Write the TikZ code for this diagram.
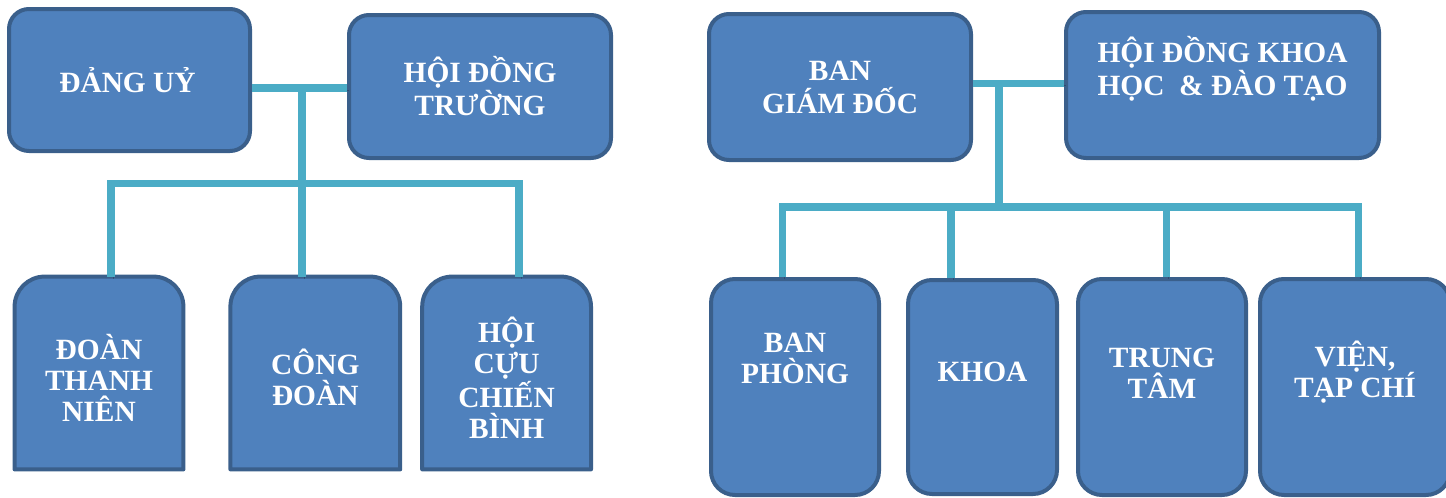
\documentclass[tikz,border=0pt]{standalone}
\usepackage{fontspec}
\setmainfont{Liberation Serif}
\usepackage{tikz}
\usetikzlibrary{positioning}
\definecolor{boxfill}{HTML}{4F81BD}
\definecolor{boxline}{HTML}{3A5F8B}
\definecolor{wirecol}{HTML}{4BACC6}
\tikzstyle{box} = [rectangle, draw=boxline, fill=boxfill, line width=2pt, rounded corners=10pt, inner sep=0pt]
\tikzstyle{tallbox} = [box, rounded corners=12pt]
\tikzstyle{tabbox} = [rectangle, inner sep=0pt]
\tikzstyle{tabshape} = [draw=boxline, fill=boxfill, line width=2pt, line join=round]
\tikzstyle{lbl} = [text=white, align=center, inner sep=0pt, font=\bfseries\fontsize{14.7}{15.5}\selectfont]
\tikzstyle{widelbl} = [lbl, font=\bfseries\fontsize{14.7}{16.5}\selectfont]
\tikzstyle{wire} = [draw=wirecol, line width=3.8pt,
  preaction={draw=black, opacity=0.2, transform canvas={xshift=1pt, yshift=-1pt}}]

\begin{document}
\begin{tikzpicture}[x=0.5pt, y=-0.5pt]
  \useasboundingbox (0,0) rectangle (1446,498);

  % left group
  \node[box, minimum width=120.5pt, minimum height=71pt] (dang) at (129.5,80) {};
  \node[box, minimum width=131pt, minimum height=71.5pt] (hdt) at (480,86.5) {};
  \node[tabbox, minimum width=84pt, minimum height=96pt] (dtn) at (99,373) {};
  \node[tabbox, minimum width=84.5pt, minimum height=96pt, right=23.5pt of dtn] (cd) {};
  \node[tabbox, minimum width=84pt, minimum height=96pt, right=11pt of cd] (hcb) {};
  \foreach \n in {dtn,cd,hcb}
    \draw[tabshape] (\n.south west) -- ([yshift=-15pt]\n.north west)
      arc[start angle=180, end angle=90, radius=15pt]
      -- ([xshift=-15pt]\n.north east)
      arc[start angle=90, end angle=0, radius=15pt]
      -- (\n.south east) -- cycle;

  % right group
  \node[box, minimum width=131pt, minimum height=73pt] (bgd) at (840,87) {};
  \node[box, minimum width=156.5pt, minimum height=73pt] (hdkh) at (1222.5,85) {};
  \node[tallbox, minimum width=84pt, minimum height=108pt] (bp) at (795,387) {};
  \node[tallbox, minimum width=74.5pt, minimum height=107pt, right=12.5pt of bp] (khoa) {};
  \node[tallbox, minimum width=84pt, minimum height=108pt, right=8.5pt of khoa] (tt) {};
  \node[tallbox, minimum width=95pt, minimum height=108pt, right=5pt of tt] (vien) {};

  \node[lbl] (dang-t) at ([xshift=-1pt]dang.center) {ĐẢNG UỶ};
  \node[widelbl] (hdt-t) at (hdt) {HỘI ĐỒNG\\TRƯỜNG};
  \node[lbl] (dtn-t) at ([yshift=-2.5pt]dtn.center) {ĐOÀN\\THANH\\NIÊN};
  \node[lbl] (cd-t) at ([yshift=-2pt]cd.center) {CÔNG\\ĐOÀN};
  \node[lbl] (hcb-t) at ([yshift=-2.5pt]hcb.center) {HỘI\\CỰU\\CHIẾN\\BÌNH};
  \node[widelbl] (bgd-t) at (bgd) {BAN\\GIÁM ĐỐC};
  \node[widelbl] (hdkh-t) at ([yshift=8pt]hdkh.center) {HỘI ĐỒNG KHOA\\HỌC \ \& ĐÀO TẠO};
  \node[lbl] (bp-t) at ([yshift=14.5pt]bp.center) {BAN\\PHÒNG};
  \node[lbl] (khoa-t) at ([yshift=7.5pt]khoa.center) {KHOA};
  \node[lbl] (tt-t) at ([yshift=7pt]tt.center) {TRUNG\\TÂM};
  \node[lbl] (vien-t) at ([yshift=7.5pt]vien.center) {VIỆN,\\TẠP CHÍ};

  \coordinate (ljoin) at (302,88);
  \coordinate (lbar1) at (111,183.5);
  \coordinate (lbar3) at (519,183.5);
  \draw[wire] (dang.east |- ljoin) -- (hdt.west |- ljoin);
  \draw[wire] (ljoin) -- (ljoin |- cd.north);
  \draw[wire] (lbar1 |- dtn.north) -- (lbar1) -- (lbar3) -- (lbar3 |- hcb.north);

  \coordinate (rjoin) at (999,83.5);
  \coordinate (rbar1) at (782.5,207);
  \coordinate (rbar2) at (951,207);
  \coordinate (rbar3) at (1166.5,207);
  \coordinate (rbar4) at (1358.5,207);
  \draw[wire] (bgd.east |- rjoin) -- (hdkh.west |- rjoin);
  \draw[wire] (rjoin) -- (rjoin |- rbar1);
  \draw[wire] (rbar1 |- bp.north) -- (rbar1) -- (rbar4) -- (rbar4 |- vien.north);
  \draw[wire] (rbar2) -- (rbar2 |- khoa.north);
  \draw[wire] (rbar3) -- (rbar3 |- tt.north);
\end{tikzpicture}
\end{document}
